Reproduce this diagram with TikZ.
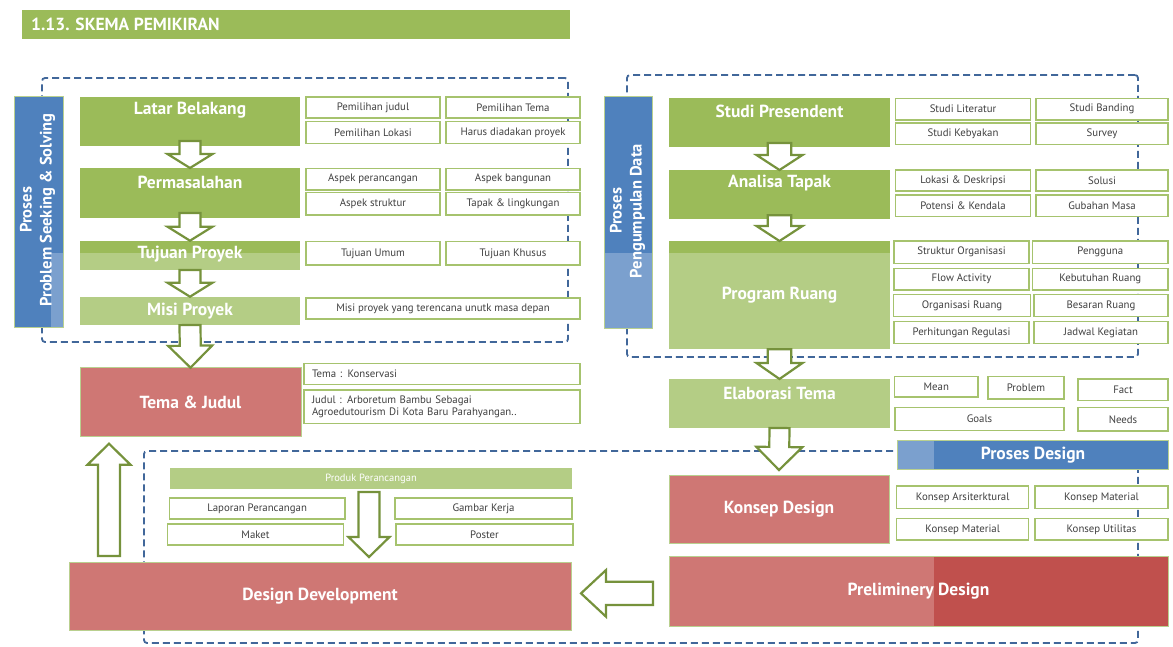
\documentclass[tikz,border=0pt]{standalone}
\usepackage{fontspec}
\setmainfont{PT Sans}
\usetikzlibrary{calc}

\definecolor{gdark}{HTML}{9BBB59}
\definecolor{glight}{HTML}{B4CD85}
\definecolor{rlight}{HTML}{CF7774}
\definecolor{rdark}{HTML}{C0504D}
\definecolor{bdark}{HTML}{4F81BD}
\definecolor{blight}{HTML}{7BA0CE}
\definecolor{arrline}{HTML}{76923C}
\definecolor{dashc}{HTML}{41679A}
\definecolor{cellline}{HTML}{A6C36E}
\definecolor{celltext}{HTML}{404040}
\definecolor{edge}{HTML}{B9D08F}

\tikzset{
  panel/.style={anchor=north west, inner sep=0pt, outer sep=0pt, draw=none},
  cellbox/.style={anchor=north west, inner sep=0pt, outer sep=0pt, draw=cellline,
    line width=1.3pt, fill=white, text=celltext, font=\fontsize{10.8}{11.6}\selectfont},
  headtxt/.style={text=white, font=\bfseries\fontsize{17.5}{20}\selectfont, inner sep=0pt},
  sidetxt/.style={text=white, font=\bfseries\fontsize{16.5}{20}\selectfont,
    align=center, rotate=90, inner sep=0pt},
  groupbox/.style={anchor=north west, inner sep=0pt, outer sep=0pt, draw=dashc,
    line width=1.8pt, dash pattern=on 7pt off 4pt, rounded corners=3pt},
  blockarr/.style={draw=arrline, line width=2.2pt, fill=white, line join=miter},
  rim/.style={draw=edge, line width=1pt},
}

% small outlined label cell: name, x, y, width, height, text
\newcommand\cell[6]{\node[cellbox, minimum width=#4pt, minimum height=#5pt] (#1) at (#2,#3) {#6};}

% hollow block arrow: start, tip, shaft half width, head half width, head length
\newcommand\hollowarrow[5]{%
  \path (#1) coordinate (ha-s) (#2) coordinate (ha-e);
  \coordinate (ha-h) at ($(ha-e)!#5!(ha-s)$);
  \draw[blockarr] ($(ha-s)!#3!90:(ha-e)$) -- ($(ha-h)!#3!90:(ha-e)$)
    -- ($(ha-h)!#4!90:(ha-e)$) -- (ha-e) -- ($(ha-h)!#4!-90:(ha-e)$)
    -- ($(ha-h)!#3!-90:(ha-e)$) -- ($(ha-s)!#3!-90:(ha-e)$) -- cycle;}

\begin{document}
\begin{tikzpicture}[x=1pt,y=-1pt]
\useasboundingbox (0,0) rectangle (1173,646);
\fill[white] (0,0) rectangle (1173,646);

% heading bar
\node[panel, fill=gdark, minimum width=548pt, minimum height=29pt] (ttl) at (22,10) {};
\node[anchor=west, inner sep=0pt, text=white, font=\bfseries\fontsize{17.5}{20}\selectfont] (ttlt) at (31,24.5) {1.13. SKEMA PEMIKIRAN};

% dashed process groups
\node[groupbox, minimum width=526pt, minimum height=264pt] (grp1) at (42,78) {};
\node[groupbox, minimum width=511pt, minimum height=282pt] (grp2) at (627,75) {};
\node[groupbox, minimum width=994pt, minimum height=192pt] (grp3) at (144,451) {};

% side bars
\node[panel, fill=bdark, minimum width=49pt, minimum height=231pt] (bb1) at (14,96) {};
\node[panel, fill=blight, minimum width=12.4pt, minimum height=74pt] (bb1p) at (50.6,253) {};
\draw[rim] (bb1.north west) rectangle (bb1.south east);
\node[panel, fill=bdark, minimum width=48pt, minimum height=232pt] (bb2) at (604,96) {};
\node[panel, fill=blight, minimum width=48pt, minimum height=75pt] (bb2p) at (604,253) {};
\draw[rim] (bb2.north west) rectangle (bb2.south east);

% left column
\node[panel, fill=gdark, minimum width=220pt, minimum height=49pt] (lb) at (80,97) {};
\node[panel, fill=gdark, minimum width=220pt, minimum height=50pt] (pm) at (80,168) {};
\node[panel, fill=glight, minimum width=220pt, minimum height=29.3pt] (tp) at (80,240.7) {};
\node[panel, fill=gdark, minimum width=220pt, minimum height=12.6pt] (tps) at (80,240.7) {};
\node[panel, fill=glight, minimum width=220pt, minimum height=28.3pt] (mp) at (80,296.7) {};
\node[panel, fill=rlight, rim, minimum width=221pt, minimum height=69pt] (tj) at (80,367.7) {};

% right column
\node[panel, fill=gdark, minimum width=221pt, minimum height=49pt] (sp) at (669,98) {};
\node[panel, fill=gdark, minimum width=221pt, minimum height=49.3pt] (at) at (669,170) {};
\node[panel, fill=glight, minimum width=221pt, minimum height=108.3pt] (pr) at (669,241) {};
\node[panel, fill=gdark, minimum width=221pt, minimum height=11.7pt] (prs) at (669,241) {};
\node[panel, fill=glight, minimum width=221pt, minimum height=49pt] (et) at (669,379) {};
\node[panel, fill=bdark, minimum width=271pt, minimum height=29.3pt] (pdes) at (897,440) {};
\node[panel, fill=blight, minimum width=37pt, minimum height=29.3pt] (pdesp) at (897,440) {};
\draw[rim] (pdes.north west) rectangle (pdes.south east);
\node[panel, fill=rlight, rim, minimum width=220pt, minimum height=68pt] (kd) at (669,475) {};
\node[panel, fill=rlight, minimum width=499pt, minimum height=69.3pt] (pd) at (669,556.7) {};
\node[panel, fill=rdark, minimum width=234pt, minimum height=69.3pt] (pdr) at (934,556.7) {};
\draw[rim] (pd.north west) rectangle (pd.south east);

% design products
\node[panel, fill=glight, minimum width=402pt, minimum height=21pt, text=white,
  font=\fontsize{10.5}{12}\selectfont] (prod) at (170,468) {Produk Perancangan};
\node[panel, fill=rlight, rim, minimum width=502pt, minimum height=68pt] (dd) at (69,562) {};

% detail cells, left
\cell{c11}{306}{97}{134}{21}{Pemilihan judul}
\cell{c12}{446}{97}{134}{21}{Pemilihan Tema}
\cell{c13}{306}{121.5}{134}{22}{Pemilihan Lokasi}
\cell{c14}{446}{121.5}{134}{22}{Harus diadakan proyek}
\cell{c21}{306}{168.5}{134}{21.5}{Aspek perancangan}
\cell{c22}{446}{168.5}{134}{21.5}{Aspek bangunan}
\cell{c23}{306}{192.7}{134}{22.3}{Aspek struktur}
\cell{c24}{446}{192.7}{134}{22.3}{Tapak \& lingkungan}
\cell{c31}{306}{241.7}{134}{23.3}{Tujuan Umum}
\cell{c32}{446}{241.7}{134}{23.3}{Tujuan Khusus}
\cell{c41}{306}{298}{274}{21}{Misi proyek yang terencana unutk masa depan}
\node[cellbox, inner xsep=8pt, text width=260pt, align=left, minimum height=21pt] (c51) at (304,363.3) {Tema : Konservasi};
\node[cellbox, inner xsep=8pt, text width=260pt, align=left, minimum height=33.3pt] (c52) at (304,390) {Judul : Arboretum Bambu Sebagai\\Agroedutourism Di Kota Baru Parahyangan..};

% detail cells, right
\cell{d11}{895.5}{98.3}{135}{21.7}{Studi Literatur}
\cell{d12}{1036}{98.3}{132}{21.7}{Studi Banding}
\cell{d13}{895.5}{123}{135}{21.3}{Studi Kebyakan}
\cell{d14}{1036}{123}{132}{21.3}{Survey}
\cell{d21}{895.5}{170}{135}{21}{Lokasi \& Deskripsi}
\cell{d22}{1036}{170}{132}{21}{Solusi}
\cell{d23}{895.5}{195}{135}{21.7}{Potensi \& Kendala}
\cell{d24}{1036}{195}{132}{21.7}{Gubahan Masa}
\cell{d31}{894}{241}{135}{22.3}{Struktur Organisasi}
\cell{d32}{1032.5}{241}{135.5}{22.3}{Pengguna}
\cell{d33}{894}{268.3}{135}{21.7}{Flow Activity}
\cell{d34}{1032.5}{268.3}{135.5}{21.7}{Kebutuhan Ruang}
\cell{d35}{893.5}{294.3}{137}{22.4}{Organisasi Ruang}
\cell{d36}{1034}{294.3}{134}{22.4}{Besaran Ruang}
\cell{d37}{894}{321.7}{135}{21.6}{Perhitungan Regulasi}
\cell{d38}{1034}{321.7}{134}{22}{Jadwal Kegiatan}
\cell{e1}{894.6}{376.7}{83.4}{20.3}{Mean}
\cell{e2}{988}{376.7}{76}{22.3}{Problem}
\cell{e3}{1078}{379}{90}{21.7}{Fact}
\cell{e4}{895}{407.7}{169}{23}{Goals}
\cell{e5}{1078}{407.7}{90}{23.3}{Needs}
\cell{k1}{896.7}{486}{132}{22.7}{Konsep Arsiterktural}
\cell{k2}{1035}{486}{133}{22.7}{Konsep Material}
\cell{k3}{896.7}{518.7}{132}{21.3}{Konsep Material}
\cell{k4}{1035}{518.7}{133}{21.3}{Konsep Utilitas}

% detail cells, design products
\cell{p1}{169.4}{498}{175.6}{21}{Laporan Perancangan}
\cell{p2}{395}{498}{177}{21}{Gambar Kerja}
\cell{p3}{167.5}{524}{176}{21}{Maket}
\cell{p4}{396}{524}{177}{21}{Poster}

% flow arrows
\hollowarrow{[yshift=5pt]lb.south}{pm.north}{10.5pt}{22.5pt}{14pt}
\hollowarrow{[yshift=5pt]pm.south}{tp.north}{10.5pt}{22.5pt}{14pt}
\hollowarrow{tp.south}{mp.north}{10.5pt}{22.5pt}{14pt}
\hollowarrow{mp.south}{tj.north}{10.5pt}{22pt}{22pt}
\hollowarrow{[yshift=4pt]sp.south}{at.north}{11.8pt}{23pt}{15pt}
\hollowarrow{[yshift=4pt]at.south}{pr.north}{11.8pt}{23pt}{15pt}
\hollowarrow{pr.south}{et.north}{11.8pt}{23pt}{16pt}
\hollowarrow{et.south}{[yshift=5pt]kd.north}{10pt}{23pt}{23pt}
\coordinate (ddin) at ($(prod.south |- dd.north)+(-2,-5)$);
\hollowarrow{$(prod.south)+(-2,3)$}{ddin}{10.5pt}{20.5pt}{20pt}
\hollowarrow{$(dd.north west)+(40,-6)$}{$(tj.south west)+(29,7)$}{11pt}{21.5pt}{21pt}
\hollowarrow{$(pd.west)+(-16,2)$}{$(dd.east |- pd.west)+(10,2)$}{11.7pt}{23.3pt}{25pt}

% headings
\node[headtxt] (lbt) at ([yshift=-13.5pt]lb.north) {Latar Belakang};
\node[headtxt] (pmt) at ([yshift=-14.5pt]pm.north) {Permasalahan};
\node[headtxt] (tpt) at ([yshift=1pt]tp.center) {Tujuan Proyek};
\node[headtxt] (mpt) at (mp.center) {Misi Proyek};
\node[headtxt] (tjt) at (tj.center) {Tema \& Judul};
\node[headtxt] (spt) at ([yshift=-13.7pt]sp.north) {Studi Presendent};
\node[headtxt] (att) at ([yshift=-13.3pt]at.north) {Analisa Tapak};
\node[headtxt] (prt) at (pr.center) {Program Ruang};
\node[headtxt] (ett) at ([yshift=-14pt]et.north) {Elaborasi Tema};
\node[headtxt] (pdest) at (1033,455) {Proses Design};
\node[headtxt] (kdt) at (kd.center) {Konsep Design};
\node[headtxt] (pdt) at (pd.center) {Preliminery Design};
\node[headtxt] (ddt) at (dd.center) {Design Development};
\node[sidetxt] (bb1t) at (37.5,210) {Proses\\Problem Seeking \& Solving};
\node[sidetxt] (bb2t) at (627.5,211) {Proses\\Pengumpulan Data};

\end{tikzpicture}
\end{document}
